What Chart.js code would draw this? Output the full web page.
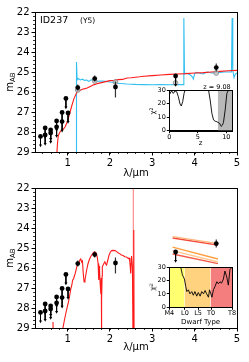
<!DOCTYPE html>
<html>
<head>
<meta charset="utf-8">
<script src="https://cdn.jsdelivr.net/npm/chart.js@4.4.1/dist/chart.umd.min.js"></script>
<style>
  html, body { margin: 0; padding: 0; background: #fff; }
  #wrap { position: relative; width: 249px; height: 362px; overflow: hidden; font-family: 'DejaVu Sans', sans-serif; color: #000; }
  canvas { position: absolute; }
  .lbl { position: absolute; white-space: nowrap; line-height: 1; }
  .rot { transform: translate(-50%, -50%) rotate(-90deg); }
  .mid { transform: translate(-50%, -50%); }
  .vmid { transform: translateY(-50%); }
  sub { font-size: 70%; vertical-align: -0.25em; }
  sup { font-size: 70%; vertical-align: 0.45em; }
</style>
</head>
<body>
<div id="wrap">
  <canvas id="top" width="249" height="180" style="left:0;top:0"></canvas>
  <canvas id="bot" width="249" height="182" style="left:0;top:180px"></canvas>
  <canvas id="ins1" width="100" height="66" style="left:145px;top:84px"></canvas>
  <canvas id="ins2" width="100" height="70" style="left:145px;top:261px"></canvas>

  <div class="lbl rot" style="left:11px;top:82px;font-size:10px">m<sub>AB</sub></div>
  <div class="lbl rot" style="left:11px;top:258px;font-size:10px">m<sub>AB</sub></div>
  <div class="lbl vmid" style="left:40px;top:20px;font-size:9.5px">ID237</div>
  <div class="lbl vmid" style="left:80px;top:21px;font-size:7.5px">(Y5)</div>
  <div class="lbl mid" style="left:217px;top:87px;font-size:6.5px">z = 9.08</div>
  <div class="lbl rot" style="left:153px;top:111px;font-size:7px">χ<sup>2</sup></div>
  <div class="lbl rot" style="left:153px;top:287px;font-size:7px">χ<sup>2</sup></div>
</div>
<script>
Chart.defaults.font.family = "'DejaVu Sans', sans-serif";
Chart.defaults.color = '#000';

// ---- photometry (AB mag) ----
var detX  = [1.24, 1.64, 2.13, 4.51];
var detY  = [25.78, 25.33, 25.75, 24.78];
var detLo = [25.63, 25.18, 25.47, 24.58];
var detHi = [25.93, 25.48, 26.28, 24.98];

// upper limits
var ulX = [0.36, 0.47, 0.47, 0.60, 0.60, 0.74, 0.74, 0.87, 0.87, 0.96, 1.01, 3.55];
var ulY = [28.22, 27.80, 28.15, 27.90, 28.05, 27.45, 27.75, 27.02, 27.48, 26.32, 27.05, 25.20];

// model photometry of the galaxy fit (top panel)
var modX = [1.24, 1.64, 2.13, 3.55, 4.51];
var modY = [25.90, 25.45, 25.50, 25.55, 25.05];

// ---- top panel spectra ----
var galX = [0.74, 0.76, 0.78, 0.82, 0.86, 0.90, 0.94, 0.99, 1.05, 1.09, 1.15, 1.21, 1.25, 1.29, 1.35, 1.41, 1.46, 1.51, 1.56,
            1.6, 1.65, 1.7, 1.8, 1.9, 2.0, 2.1, 2.2, 2.3, 2.4, 2.5, 2.6, 2.7, 2.8, 3.0, 3.2, 3.4, 3.6, 3.8, 4.0, 4.2, 4.4, 4.6, 4.8, 5.0];
var galY = [29.3, 28.6, 28.17, 28.0, 27.9, 27.85, 27.75, 27.5, 27.08, 26.75, 26.33, 26.05, 25.95, 25.92, 25.86, 25.83, 25.80, 25.75, 25.70,
            25.65, 25.62, 25.58, 25.53, 25.48, 25.43, 25.42, 25.38, 25.37, 25.30, 25.29, 25.26, 25.24, 25.21, 25.18, 25.15, 25.12, 25.10, 25.08, 25.05, 25.03, 25.00, 24.97, 24.94, 24.92];

var y5X = [1.205, 1.21, 1.225, 1.25, 1.3, 1.35, 1.4, 1.45, 1.5, 1.55, 1.6, 1.65, 1.7, 1.8, 1.9, 2.0, 2.1, 2.2, 2.4, 2.6, 2.8,
           3.0, 3.2, 3.4, 3.6, 3.73, 3.745, 3.76, 3.8, 3.85, 3.9, 3.95, 3.97, 4.0, 4.05, 4.1, 4.2, 4.3, 4.4, 4.5, 4.6, 4.7,
           4.8, 4.87, 4.885, 4.9, 4.93, 4.96, 5.0];
var y5Y = [29.5, 24.5, 25.4, 25.33, 25.4, 25.36, 25.42, 25.4, 25.47, 25.4, 25.38, 25.42, 25.46, 25.45, 25.47, 25.5, 25.52, 25.56, 25.6, 25.62, 25.63,
           25.64, 25.63, 25.64, 25.63, 25.63, 22.3, 25.1, 25.05, 25.1, 25.15, 25.25, 25.35, 25.08, 25.02, 25.05, 25.1, 25.0, 25.05, 25.03, 25.02, 25.0,
           25.0, 25.0, 22.3, 24.9, 25.28, 25.1, 25.05];

// ---- bottom panel: best brown dwarf template ----
var bdX = [0.88, 0.93, 0.98, 1.02, 1.05, 1.08, 1.1, 1.12, 1.14, 1.16, 1.18, 1.2, 1.23, 1.26, 1.29, 1.31, 1.33, 1.35, 1.37, 1.39,
           1.41, 1.43, 1.45, 1.48, 1.51, 1.54, 1.57, 1.6, 1.63, 1.66, 1.68, 1.7, 1.72, 1.735, 1.745, 1.755, 1.77, 1.785, 1.795,
           1.80, 1.805, 1.815, 1.82, 1.85, 1.88, 1.9, 1.92, 1.95, 1.98, 2.01, 2.04, 2.08, 2.12, 2.16, 2.19, 2.23, 2.27, 2.31,
           2.35, 2.39, 2.43, 2.45, 2.47, 2.49, 2.51, 2.53, 2.545, 2.56, 2.565, 2.57];
var bdY = [29.1, 28.55, 28.05, 27.7, 27.36, 27.0, 26.85, 26.6, 26.55, 26.4, 26.27, 26.1, 25.8, 25.75, 25.6, 25.55, 25.7, 25.65, 26.3, 26.7,
           26.6, 26.35, 26.1, 25.8, 25.6, 25.45, 25.35, 25.25, 25.19, 25.22, 25.27, 25.45, 25.77, 26.6, 25.9, 26.2, 26.8, 27.3, 26.5,
           29.5, 27.6, 26.4, 25.94, 25.8, 25.69, 25.8, 25.85, 25.6, 25.35, 25.2, 25.13, 25.12, 25.13, 25.18, 25.24, 25.28, 25.35, 25.38,
           25.44, 25.45, 25.52, 25.5, 25.69, 26.27, 25.4, 25.9, 29.5, 29.5, 24.1, 29.5];
var bdBlueX = [0.655, 0.66];
var bdBlueY = [28.7, 29.5];
// full-height edge spike of the template
var bdSpikeX = [2.552, 2.552];
var bdSpikeY = [29.5, 21.5];

// IRAC predictions of the dwarf templates
var iracX = [3.48, 4.55];
var iracY = [[24.43, 24.78], [24.50, 24.86], [24.96, 25.55], [25.13, 25.70], [25.30, 25.78]];

// ---- inset: chi2 vs redshift ----
var zGrid = [0, 0.12, 0.41, 0.7, 1.0, 1.3, 1.59, 1.88, 2.1, 2.35, 2.59, 2.76, 3.0, 6.6, 6.88, 7.17, 7.47, 7.76, 8.05, 8.35,
             8.82, 9.1, 9.3, 9.5, 9.8, 10.1, 10.4, 11];
var chiZ  = [28, 27.5, 29.3, 27.5, 29.3, 28.7, 25, 19.7, 18.2, 21.4, 27.5, 30, 40, 40, 30, 22.6, 12.8, 7.9, 7, 6.6,
             5.4, 3.2, 4, 6, 15.2, 27.5, 30, 40];
var zBand = [8.5, 11];
var zTicks = [0, 5, 10];

// ---- inset: chi2 vs dwarf type ----
var typeIdx = [4.0, 4.37, 5.0, 5.8, 6.3, 6.7, 7.3, 7.9, 8.6, 9.2, 9.8, 10.5, 11.1, 11.8, 12.4, 13.1, 13.7, 14.3, 15.0, 15.4,
               15.9, 16.3, 16.9, 17.5, 18.2, 18.8, 19.4, 20.0, 20.7, 21.3, 22.0, 22.6, 23.2, 24];
var chiT    = [36, 30, 24.2, 21, 15.5, 11.7, 13, 10, 11.7, 9, 11.7, 8.3, 11, 8.3, 11.7, 10, 12.5, 10, 7.5, 13,
               10, 7.5, 13, 15.5, 19, 17.5, 19, 18, 21, 27, 22.5, 16.5, 28, 30];
var typeBands  = [[0, 5.8], [5.8, 15.8], [15.8, 24]];
var typeTicks  = [0, 6, 11, 16, 24];
var typeLabels = ['M4', 'L0', 'L5', 'T0', 'T8'];

var magTicks = [22, 23, 24, 25, 26, 27, 28, 29];
var lamTicks = [1, 2, 3, 4, 5];

var ARROW = 0.45;

function pts(xs, ys) { return xs.map(function (x, i) { return {x: x, y: ys[i]}; }); }
function segs(xs, a, b) {
  var out = [];
  xs.forEach(function (x, i) { out.push({x: x, y: a[i]}, {x: x, y: b[i]}, {x: x, y: null}); });
  return out;
}
var ulTip = ulY.map(function (y) { return y + ARROW; });

var frame = {
  id: 'frame',
  beforeDraw: function (c, args, o) {
    if (!o.fill) return;
    var a = c.chartArea;
    c.ctx.save();
    c.ctx.fillStyle = '#fff';
    c.ctx.fillRect(a.left, a.top, a.right - a.left, a.bottom - a.top);
    c.ctx.restore();
  },
  afterDraw: function (c) {
    var a = c.chartArea, ctx = c.ctx;
    ctx.save();
    ctx.strokeStyle = '#000';
    ctx.lineWidth = 1;
    ctx.strokeRect(Math.round(a.left) + 0.5, Math.round(a.top) + 0.5, Math.round(a.right - a.left), Math.round(a.bottom - a.top));
    ctx.restore();
  }
};

var minorTicks = {
  id: 'minorTicks',
  afterDraw: function (c, args, o) {
    if (!o.step) return;
    var ctx = c.ctx, xs = c.scales.x, ys = c.scales.y, a = c.chartArea, v, p;
    ctx.save();
    ctx.strokeStyle = '#000';
    ctx.lineWidth = 0.8;
    ctx.beginPath();
    for (v = Math.ceil(xs.min / o.step) * o.step; v <= xs.max + 1e-9; v += o.step) {
      p = Math.round(xs.getPixelForValue(v)) + 0.5;
      ctx.moveTo(p, a.bottom); ctx.lineTo(p, a.bottom + o.len);
    }
    for (v = ys.min; v <= ys.max + 1e-9; v += o.step) {
      p = Math.round(ys.getPixelForValue(v)) + 0.5;
      ctx.moveTo(a.left, p); ctx.lineTo(a.left - o.len, p);
    }
    ctx.stroke();
    ctx.restore();
  }
};

function photometry(withModel) {
  var ds = [
    {data: pts(detX, detY), pointRadius: 2.4, backgroundColor: '#000', borderWidth: 0},
    {data: pts(ulX, ulY), pointRadius: 2.4, backgroundColor: '#000', borderWidth: 0},
    {data: pts(ulX, ulTip), pointStyle: 'triangle', rotation: 180, pointRadius: 1.8, backgroundColor: '#000', borderWidth: 0},
    {data: segs(detX, detLo, detHi), showLine: true, borderColor: '#333', borderWidth: 1.2, pointRadius: 0},
    {data: segs(ulX, ulY, ulTip), showLine: true, borderColor: '#000', borderWidth: 1, pointRadius: 0}
  ];
  if (withModel) {
    ds.push({data: pts(modX, modY), pointRadius: 2.4, backgroundColor: 'rgba(190,190,190,0.8)', borderColor: '#888', borderWidth: 0.8});
  }
  return ds;
}

function mainChart(id, datasets, padTop, xHeight, titlePad) {
  return new Chart(document.getElementById(id), {
    type: 'scatter',
    data: {datasets: datasets},
    options: {
      responsive: false,
      animation: false,
      events: [],
      layout: {padding: {left: 0, right: 12, top: padTop, bottom: 0}},
      plugins: {legend: {display: false}, tooltip: {enabled: false}, minorTicks: {step: 0.2, len: 2}},
      scales: {
        x: {
          min: 0.23, max: 5,
          afterFit: function (s) { s.height = xHeight; },
          afterBuildTicks: function (s) { s.ticks = lamTicks.map(function (v) { return {value: v}; }); },
          ticks: {font: {size: 10}, padding: 2, maxRotation: 0},
          grid: {drawOnChartArea: false, tickLength: 3.5, color: '#000'},
          border: {color: '#000'},
          title: {display: true, text: 'λ/μm', font: {size: 10}, padding: {top: 0, bottom: titlePad}}
        },
        y: {
          reverse: true, min: 22, max: 29,
          afterFit: function (s) { s.width = 35; },
          afterBuildTicks: function (s) { s.ticks = magTicks.map(function (v) { return {value: v}; }); },
          ticks: {font: {size: 10}, padding: 2},
          grid: {drawOnChartArea: false, tickLength: 3.5, color: '#000'},
          border: {color: '#000'}
        }
      }
    },
    plugins: [frame, minorTicks]
  });
}

// top panel
var topSets = photometry(true).concat([
  {data: pts(galX, galY), showLine: true, borderColor: '#ff1a1a', borderWidth: 1.1, pointRadius: 0},
  {data: pts(y5X, y5Y), showLine: true, borderColor: '#33c0f0', borderWidth: 1.1, pointRadius: 0}
]);
mainChart('top', topSets, 12, 28, 1);

// bottom panel
var iracColors = ['#ffb27a', '#f24a3a', '#ffa040', '#ffc890', '#f25a4a'];
var botSets = photometry(false);
iracY.forEach(function (ys, i) {
  botSets.push({data: pts(iracX, ys), showLine: true, borderColor: iracColors[i], borderWidth: 1.3, pointRadius: 0});
});
botSets.push(
  {data: pts(bdX, bdY), showLine: true, borderColor: '#ff1a1a', borderWidth: 1.1, pointRadius: 0},
  {data: pts(bdBlueX, bdBlueY), showLine: true, borderColor: '#ff1a1a', borderWidth: 1.1, pointRadius: 0},
  {data: pts(bdSpikeX, bdSpikeY), showLine: true, borderColor: '#ff8c8c', borderWidth: 1.2, pointRadius: 0}
);
mainChart('bot', botSets, 8, 34, 9);

function insetChart(id, datasets, xOpts, xHeight, titleText, titlePad) {
  return new Chart(document.getElementById(id), {
    type: 'scatter',
    data: {datasets: datasets},
    options: {
      responsive: false,
      animation: false,
      events: [],
      layout: {padding: {left: 0, right: 13, top: 6, bottom: 0}},
      plugins: {legend: {display: false}, tooltip: {enabled: false}, frame: {fill: true}},
      scales: {
        x: Object.assign({
          afterFit: function (s) { s.height = xHeight; },
          ticks: {font: {size: 6.5}, padding: 0, maxRotation: 0, autoSkip: false},
          grid: {drawOnChartArea: false, tickLength: 2.5, color: '#000'},
          border: {color: '#000'},
          title: {display: true, text: titleText, font: {size: 7}, padding: {top: 0, bottom: titlePad}}
        }, xOpts),
        y: {
          min: 0, max: 30,
          afterFit: function (s) { s.width = 24.3; },
          afterBuildTicks: function (s) { s.ticks = [0, 10, 20, 30].map(function (v) { return {value: v}; }); },
          ticks: {font: {size: 6.5}, padding: 1},
          grid: {drawOnChartArea: false, tickLength: 2.5, color: '#000'},
          border: {color: '#000'}
        }
      }
    },
    plugins: [frame]
  });
}

// redshift inset
insetChart('ins1', [
  {data: pts(zGrid, chiZ), showLine: true, borderColor: '#000', borderWidth: 0.9, pointRadius: 0},
  {data: pts(zBand, [30, 30]), showLine: true, fill: 'origin', backgroundColor: 'rgba(160,160,160,0.75)', borderWidth: 0, pointRadius: 0}
], {
  min: 0, max: 11,
  afterBuildTicks: function (s) { s.ticks = zTicks.map(function (v) { return {value: v}; }); }
}, 19.3, 'z', 3);

// dwarf type inset
var bandColors = ['#ffff70', '#ffd27f', '#f47e7e'];
var typeSets = [{data: pts(typeIdx, chiT), showLine: true, borderColor: '#000', borderWidth: 0.9, pointRadius: 0}];
typeBands.forEach(function (b, i) {
  typeSets.push({data: pts(b, [30, 30]), showLine: true, fill: 'origin', backgroundColor: bandColors[i], borderWidth: 0, pointRadius: 0});
});
insetChart('ins2', typeSets, {
  min: 0, max: 24,
  afterBuildTicks: function (s) { s.ticks = typeTicks.map(function (v) { return {value: v}; }); },
  ticks: {font: {size: 6.5}, padding: 0, maxRotation: 0, autoSkip: false,
          callback: function (v) { return typeLabels[typeTicks.indexOf(v)]; }}
}, 23.7, 'Dwarf Type', 5);
</script>
</body>
</html>
